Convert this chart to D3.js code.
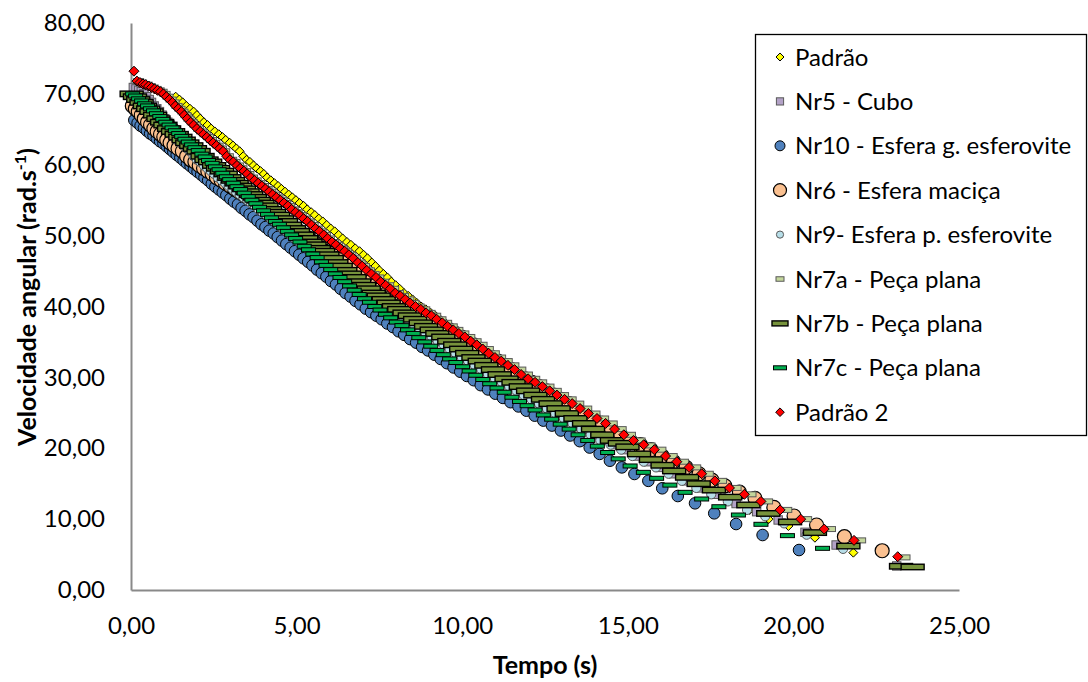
<!DOCTYPE html>
<html>
<head>
<meta charset="utf-8">
<script src="https://cdn.jsdelivr.net/npm/d3@7"></script>
<style>
  body { margin: 0; background: #fff; }
  svg { display: block; }
  text { font-family: Lato, "Open Sans", sans-serif; }
</style>
</head>
<body>
<svg id="chart" width="1088" height="682"></svg>
<script>
// Tick values
const xTicks = [0, 5, 10, 15, 20, 25];
const yTicks = [0, 10, 20, 30, 40, 50, 60, 70, 80];

// Series names, in legend / drawing order
const seriesNames = [
  "Padrão", "Nr5 - Cubo", "Nr10 - Esfera g. esferovite", "Nr6 - Esfera maciça",
  "Nr9- Esfera p. esferovite", "Nr7a - Peça plana", "Nr7b - Peça plana",
  "Nr7c - Peça plana", "Padrão 2"
];

// Measurements: [tempo (s), velocidade angular (rad/s)]
const padrao = [[1.35,69.6],[1.46,69.2],[1.56,68.8],[1.67,68.3],[1.78,67.9],[1.89,67.5],[1.99,67.0],[2.09,66.5],[2.20,66.0],[2.31,65.6],[2.42,65.1],[2.53,64.7],[2.65,64.3],[2.76,63.9],[2.86,63.5],[2.98,63.1],[3.08,62.7],[3.18,62.3],[3.28,61.9],[3.39,61.2],[3.49,60.7],[3.59,60.4],[3.70,59.9],[3.80,59.5],[3.91,59.1],[4.01,58.7],[4.11,58.2],[4.22,57.8],[4.33,57.4],[4.44,57.0],[4.54,56.6],[4.65,56.2],[4.76,55.8],[4.87,55.4],[4.98,55.0],[5.09,54.6],[5.21,54.2],[5.32,53.7],[5.44,53.3],[5.55,52.9],[5.67,52.4],[5.79,52.0],[5.91,51.5],[6.03,51.0],[6.15,50.6],[6.27,50.1],[6.39,49.6],[6.52,49.1],[6.64,48.7],[6.77,48.2],[6.90,47.8],[7.02,47.3],[7.14,46.8],[7.27,46.2],[7.38,45.7],[7.50,45.1],[7.62,44.6],[7.74,44.1],[7.86,43.5],[7.99,43.0],[8.11,42.5],[8.24,41.9],[8.37,41.5],[8.50,41.0],[8.63,40.5],[8.76,40.0],[8.90,39.6],[9.05,39.1],[9.19,38.7],[9.33,38.2],[9.48,37.7],[9.62,37.2],[9.76,36.7],[9.91,36.2],[10.08,35.7],[10.25,35.1],[10.42,34.6],[10.59,34.0],[10.76,33.4],[10.94,32.8],[11.12,32.3],[11.31,31.7],[11.50,31.1],[11.69,30.4],[11.89,29.8],[12.09,29.3],[12.29,28.7],[12.49,28.1],[12.69,27.5],[12.90,26.9],[13.11,26.3],[13.33,25.6],[13.55,24.9],[13.79,24.2],[14.03,23.5],[14.26,22.7],[14.50,21.9],[14.76,21.1],[15.03,20.5],[15.31,19.8],[15.60,18.9],[15.90,18.1],[16.22,17.3],[16.55,16.4],[16.90,15.4],[17.29,14.4],[17.70,13.5],[18.16,12.5],[18.68,11.3],[19.25,10.0],[19.85,9.03],[20.65,7.38],[21.81,5.27]];

const nr5 = [[0.07,70.9],[0.15,70.7],[0.23,70.5],[0.31,70.3],[0.39,70.0],[0.47,69.6],[0.55,69.2],[0.62,68.8],[0.70,68.3],[0.78,67.9],[0.86,67.5],[0.94,67.0],[1.02,66.5],[1.11,66.0],[1.19,65.6],[1.28,65.1],[1.36,64.7],[1.45,64.3],[1.54,63.9],[1.62,63.5],[1.71,63.1],[1.79,62.7],[1.88,62.3],[1.97,61.9],[2.07,61.2],[2.16,60.7],[2.24,60.4],[2.35,59.9],[2.45,59.5],[2.56,59.1],[2.66,58.7],[2.77,58.2],[2.88,57.8],[2.99,57.4],[3.10,57.0],[3.21,56.6],[3.32,56.2],[3.43,55.8],[3.54,55.4],[3.66,55.0],[3.77,54.6],[3.89,54.2],[4.00,53.7],[4.12,53.3],[4.24,52.9],[4.36,52.4],[4.48,52.0],[4.60,51.5],[4.72,51.0],[4.84,50.6],[4.97,50.1],[5.09,49.6],[5.22,49.1],[5.34,48.7],[5.47,48.2],[5.60,47.8],[5.73,47.3],[5.86,46.8],[6.00,46.2],[6.13,45.7],[6.27,45.1],[6.41,44.6],[6.55,44.1],[6.69,43.5],[6.84,43.0],[6.98,42.5],[7.13,41.9],[7.28,41.5],[7.43,41.0],[7.58,40.5],[7.74,40.0],[7.90,39.6],[8.06,39.1],[8.22,38.7],[8.38,38.2],[8.55,37.7],[8.71,37.2],[8.88,36.7],[9.05,36.2],[9.23,35.7],[9.41,35.1],[9.59,34.6],[9.77,34.0],[9.95,33.4],[10.14,32.8],[10.33,32.3],[10.53,31.7],[10.73,31.1],[10.93,30.4],[11.14,29.8],[11.35,29.3],[11.57,28.7],[11.79,28.1],[12.01,27.5],[12.24,26.9],[12.47,26.3],[12.71,25.6],[12.96,24.9],[13.22,24.2],[13.48,23.5],[13.75,22.7],[14.03,21.9],[14.32,21.1],[14.63,20.5],[14.95,19.8],[15.29,18.9],[15.63,18.1],[16.00,17.3],[16.38,16.4],[16.78,15.4],[17.22,14.4],[17.67,13.5],[18.27,12.2],[18.89,11.05],[19.54,9.88],[20.35,8.14],[21.29,6.35],[23.12,3.39]];

const nr10 = [[0.10,66.3],[0.20,65.9],[0.29,65.5],[0.39,65.2],[0.48,64.8],[0.58,64.4],[0.68,64.1],[0.78,63.7],[0.88,63.3],[0.98,63.0],[1.08,62.6],[1.18,62.2],[1.28,61.8],[1.38,61.4],[1.49,61.0],[1.59,60.6],[1.69,60.2],[1.80,59.8],[1.90,59.4],[2.01,59.0],[2.12,58.6],[2.22,58.2],[2.33,57.8],[2.44,57.3],[2.55,56.9],[2.66,56.5],[2.77,56.1],[2.88,55.7],[3.00,55.2],[3.11,54.8],[3.23,54.4],[3.34,53.9],[3.46,53.5],[3.58,53.0],[3.70,52.6],[3.82,52.1],[3.94,51.6],[4.06,51.2],[4.18,50.7],[4.31,50.3],[4.43,49.8],[4.56,49.3],[4.69,48.8],[4.82,48.3],[4.95,47.8],[5.08,47.3],[5.21,46.8],[5.35,46.3],[5.48,45.8],[5.62,45.2],[5.76,44.7],[5.90,44.2],[6.04,43.6],[6.19,43.1],[6.33,42.5],[6.48,41.9],[6.63,41.4],[6.78,40.8],[6.93,40.3],[7.09,39.7],[7.25,39.2],[7.41,38.7],[7.57,38.2],[7.74,37.6],[7.91,37.1],[8.08,36.5],[8.25,36.0],[8.43,35.4],[8.61,34.9],[8.79,34.3],[8.97,33.8],[9.16,33.2],[9.35,32.6],[9.54,32.0],[9.74,31.4],[9.94,30.8],[10.14,30.2],[10.35,29.6],[10.56,28.9],[10.78,28.3],[11.00,27.7],[11.23,27.1],[11.46,26.5],[11.70,25.9],[11.94,25.3],[12.19,24.6],[12.45,23.9],[12.71,23.2],[12.98,22.5],[13.26,21.8],[13.55,21.0],[13.85,20.1],[14.15,19.2],[14.46,18.24],[14.82,17.3],[15.20,16.37],[15.62,15.4],[16.04,14.35],[16.51,13.26],[17.03,12.23],[17.61,10.82],[18.27,9.31],[19.07,7.76],[20.17,5.64]];

const nr6 = [[0.04,68.3],[0.13,67.9],[0.22,67.5],[0.31,67.0],[0.40,66.5],[0.50,66.0],[0.59,65.6],[0.69,65.1],[0.79,64.7],[0.89,64.3],[0.99,63.9],[1.08,63.5],[1.18,63.1],[1.30,62.7],[1.42,62.3],[1.55,61.9],[1.68,61.2],[1.80,60.7],[1.93,60.4],[2.06,59.9],[2.19,59.5],[2.32,59.1],[2.45,58.7],[2.58,58.2],[2.72,57.8],[2.85,57.4],[2.99,57.0],[3.12,56.6],[3.25,56.2],[3.39,55.8],[3.52,55.4],[3.66,55.0],[3.79,54.6],[3.94,54.2],[4.07,53.7],[4.21,53.3],[4.36,52.9],[4.50,52.4],[4.65,52.0],[4.79,51.5],[4.93,51.0],[5.08,50.6],[5.23,50.1],[5.38,49.6],[5.53,49.1],[5.67,48.7],[5.82,48.2],[5.97,47.8],[6.12,47.3],[6.27,46.8],[6.43,46.2],[6.58,45.7],[6.74,45.1],[6.90,44.6],[7.06,44.1],[7.22,43.5],[7.39,43.0],[7.55,42.5],[7.73,41.9],[7.89,41.5],[8.05,41.0],[8.21,40.5],[8.38,40.0],[8.56,39.6],[8.73,39.1],[8.90,38.7],[9.07,38.2],[9.25,37.7],[9.43,37.2],[9.61,36.7],[9.79,36.2],[9.98,35.7],[10.16,35.1],[10.34,34.6],[10.52,34.0],[10.70,33.4],[10.89,32.8],[11.08,32.3],[11.28,31.7],[11.48,31.1],[11.68,30.4],[11.89,29.8],[12.10,29.3],[12.32,28.7],[12.54,28.1],[12.76,27.5],[12.99,26.9],[13.22,26.3],[13.46,25.6],[13.71,24.9],[13.97,24.2],[14.23,23.5],[14.50,22.7],[14.78,21.9],[15.07,21.1],[15.38,20.5],[15.70,19.8],[16.04,18.9],[16.38,18.1],[16.76,17.3],[17.15,16.4],[17.54,15.5],[17.93,14.7],[18.37,13.8],[18.84,12.94],[19.41,11.67],[20.02,10.44],[20.70,9.17],[21.54,7.52],[22.68,5.54]];

const nr9 = [[0.07,69.6],[0.16,69.2],[0.25,68.8],[0.34,68.3],[0.43,67.9],[0.52,67.5],[0.61,67.0],[0.70,66.5],[0.80,66.0],[0.89,65.6],[0.99,65.1],[1.09,64.7],[1.19,64.3],[1.29,63.9],[1.38,63.5],[1.48,63.1],[1.58,62.7],[1.68,62.3],[1.78,61.9],[1.89,61.2],[1.99,60.7],[2.09,60.4],[2.20,59.9],[2.30,59.5],[2.41,59.1],[2.51,58.7],[2.62,58.2],[2.73,57.8],[2.84,57.4],[2.95,57.0],[3.06,56.6],[3.17,56.2],[3.28,55.8],[3.39,55.4],[3.51,55.0],[3.62,54.6],[3.74,54.2],[3.85,53.7],[3.97,53.3],[4.09,52.9],[4.21,52.4],[4.33,52.0],[4.45,51.5],[4.57,51.0],[4.69,50.6],[4.82,50.1],[4.94,49.6],[5.07,49.1],[5.19,48.7],[5.32,48.2],[5.45,47.8],[5.58,47.3],[5.71,46.8],[5.85,46.2],[5.98,45.7],[6.12,45.1],[6.26,44.6],[6.40,44.1],[6.54,43.5],[6.69,43.0],[6.83,42.5],[6.98,41.9],[7.13,41.5],[7.28,41.0],[7.43,40.5],[7.59,40.0],[7.75,39.6],[7.91,39.1],[8.07,38.7],[8.23,38.2],[8.40,37.7],[8.56,37.2],[8.73,36.7],[8.90,36.2],[9.08,35.7],[9.26,35.1],[9.44,34.6],[9.62,34.0],[9.80,33.4],[9.99,32.8],[10.18,32.3],[10.38,31.7],[10.58,31.1],[10.78,30.4],[10.99,29.8],[11.20,29.3],[11.42,28.7],[11.64,28.1],[11.86,27.5],[12.09,26.9],[12.32,26.3],[12.56,25.6],[12.81,24.9],[13.07,24.2],[13.33,23.5],[13.60,22.7],[13.88,21.9],[14.17,21.1],[14.48,20.5],[14.80,19.8],[15.14,18.9],[15.48,18.1],[15.85,17.3],[16.23,16.4],[16.63,15.4],[17.07,14.4],[17.52,13.5],[18.02,12.5],[18.60,11.3],[19.15,10.4],[19.72,9.4],[20.40,7.8],[21.50,5.8]];

const nr7a = [[0.23,71.8],[0.32,71.6],[0.41,71.4],[0.49,71.3],[0.58,71.1],[0.67,70.9],[0.76,70.7],[0.85,70.5],[0.94,70.3],[1.03,70.0],[1.12,69.6],[1.21,69.2],[1.30,68.8],[1.39,68.3],[1.48,67.9],[1.57,67.5],[1.66,67.0],[1.75,66.5],[1.85,66.0],[1.94,65.6],[2.04,65.1],[2.14,64.7],[2.24,64.3],[2.34,63.9],[2.43,63.5],[2.53,63.1],[2.63,62.7],[2.73,62.3],[2.83,61.9],[2.94,61.2],[3.04,60.7],[3.14,60.4],[3.25,59.9],[3.35,59.5],[3.46,59.1],[3.56,58.7],[3.67,58.2],[3.78,57.8],[3.89,57.4],[4.00,57.0],[4.11,56.6],[4.22,56.2],[4.33,55.8],[4.44,55.4],[4.56,55.0],[4.67,54.6],[4.79,54.2],[4.90,53.7],[5.02,53.3],[5.14,52.9],[5.26,52.4],[5.38,52.0],[5.50,51.5],[5.62,51.0],[5.74,50.6],[5.87,50.1],[5.99,49.6],[6.12,49.1],[6.24,48.7],[6.38,48.2],[6.51,47.8],[6.64,47.3],[6.78,46.8],[6.92,46.2],[7.05,45.7],[7.20,45.1],[7.34,44.6],[7.48,44.1],[7.63,43.5],[7.78,43.0],[7.93,42.5],[8.08,41.9],[8.23,41.5],[8.39,41.0],[8.54,40.5],[8.70,40.0],[8.87,39.6],[9.03,39.1],[9.20,38.7],[9.36,38.2],[9.53,37.7],[9.70,37.2],[9.87,36.7],[10.05,36.2],[10.23,35.7],[10.42,35.1],[10.60,34.6],[10.79,34.0],[10.97,33.4],[11.16,32.8],[11.36,32.3],[11.56,31.7],[11.77,31.1],[11.97,30.4],[12.19,29.8],[12.40,29.3],[12.62,28.7],[12.84,28.1],[13.06,27.5],[13.29,26.9],[13.52,26.3],[13.76,25.6],[14.01,24.9],[14.27,24.2],[14.53,23.5],[14.80,22.7],[15.08,21.9],[15.37,21.1],[15.67,20.4],[16.00,19.8],[16.34,18.9],[16.68,18.1],[17.05,17.3],[17.43,16.4],[17.83,15.4],[18.27,14.4],[18.72,13.5],[19.22,12.5],[19.80,11.3],[20.40,10.0],[21.12,8.6],[22.03,7.0],[23.37,4.6]];

const nr7b = [[0.02,70.0],[0.12,69.6],[0.22,69.2],[0.32,68.8],[0.42,68.3],[0.52,67.9],[0.62,67.5],[0.73,67.0],[0.83,66.5],[0.94,66.0],[1.04,65.6],[1.15,65.1],[1.27,64.7],[1.38,64.3],[1.49,63.9],[1.59,63.5],[1.70,63.1],[1.82,62.7],[1.93,62.3],[2.04,61.9],[2.16,61.2],[2.28,60.7],[2.39,60.4],[2.51,59.9],[2.63,59.5],[2.75,59.1],[2.86,58.7],[2.97,58.2],[3.08,57.8],[3.19,57.4],[3.30,57.0],[3.41,56.6],[3.52,56.2],[3.63,55.8],[3.74,55.4],[3.86,55.0],[3.97,54.6],[4.09,54.2],[4.20,53.7],[4.32,53.3],[4.44,52.9],[4.56,52.4],[4.68,52.0],[4.80,51.5],[4.92,51.0],[5.04,50.6],[5.17,50.1],[5.29,49.6],[5.42,49.1],[5.54,48.7],[5.67,48.2],[5.80,47.8],[5.93,47.3],[6.06,46.8],[6.20,46.2],[6.33,45.7],[6.47,45.1],[6.61,44.6],[6.75,44.1],[6.89,43.5],[7.04,43.0],[7.18,42.5],[7.33,41.9],[7.48,41.5],[7.63,41.0],[7.78,40.5],[7.94,40.0],[8.10,39.6],[8.26,39.1],[8.42,38.7],[8.58,38.2],[8.75,37.7],[8.91,37.2],[9.08,36.7],[9.25,36.2],[9.43,35.7],[9.61,35.1],[9.79,34.6],[9.97,34.0],[10.15,33.4],[10.34,32.8],[10.53,32.3],[10.73,31.7],[10.93,31.1],[11.13,30.4],[11.34,29.8],[11.55,29.3],[11.77,28.7],[11.99,28.1],[12.21,27.5],[12.44,26.9],[12.67,26.3],[12.91,25.6],[13.16,24.9],[13.42,24.2],[13.68,23.5],[13.95,22.7],[14.23,21.9],[14.52,21.1],[14.76,20.7],[14.99,20.2],[15.34,19.2],[15.70,18.4],[16.05,17.6],[16.40,16.8],[16.79,15.9],[17.14,15.0],[17.60,14.1],[18.09,13.1],[18.64,12.0],[19.24,10.8],[19.90,9.6],[20.65,8.1],[21.66,6.2],[23.25,3.35],[23.60,3.25]];

const nr7c = [[0.05,70.0],[0.14,69.7],[0.23,69.3],[0.32,69.0],[0.41,68.6],[0.50,68.3],[0.59,67.9],[0.68,67.6],[0.77,67.2],[0.87,66.8],[0.96,66.4],[1.05,66.0],[1.15,65.6],[1.24,65.2],[1.34,64.8],[1.44,64.4],[1.53,64.0],[1.63,63.6],[1.73,63.2],[1.83,62.8],[1.93,62.4],[2.03,62.0],[2.14,61.5],[2.24,61.1],[2.34,60.6],[2.45,60.2],[2.55,59.7],[2.66,59.3],[2.77,58.8],[2.88,58.3],[2.98,57.9],[3.09,57.4],[3.20,56.9],[3.31,56.5],[3.42,56.0],[3.54,55.5],[3.65,55.0],[3.77,54.5],[3.88,54.0],[4.00,53.5],[4.12,53.0],[4.24,52.5],[4.36,52.0],[4.48,51.6],[4.60,51.1],[4.72,50.6],[4.85,50.1],[4.97,49.6],[5.10,49.1],[5.23,48.5],[5.36,48.0],[5.49,47.4],[5.62,46.9],[5.75,46.3],[5.89,45.8],[6.03,45.2],[6.17,44.6],[6.31,44.1],[6.45,43.5],[6.60,42.9],[6.74,42.3],[6.89,41.7],[7.05,41.1],[7.20,40.6],[7.36,40.0],[7.52,39.5],[7.68,38.9],[7.84,38.4],[8.01,37.8],[8.18,37.3],[8.35,36.7],[8.52,36.2],[8.69,35.6],[8.87,35.0],[9.05,34.4],[9.24,33.8],[9.43,33.2],[9.62,32.6],[9.81,32.1],[10.01,31.5],[10.21,30.9],[10.41,30.3],[10.62,29.7],[10.83,29.1],[11.05,28.5],[11.27,27.9],[11.50,27.2],[11.73,26.6],[11.96,26.0],[12.20,25.4],[12.45,24.7],[12.70,24.1],[12.96,23.4],[13.23,22.7],[13.50,21.9],[13.79,21.1],[14.08,20.3],[14.39,19.4],[14.71,18.5],[15.07,17.5],[15.47,16.6],[15.87,15.76],[16.27,14.8],[16.73,13.78],[17.23,12.84],[17.75,11.75],[18.34,10.58],[19.02,9.27],[19.82,7.67],[20.88,5.88]];

const padrao2 = [[0.09,73.2],[0.18,71.8],[0.27,71.6],[0.36,71.4],[0.44,71.3],[0.53,71.1],[0.62,70.9],[0.71,70.7],[0.80,70.5],[0.89,70.3],[0.98,70.0],[1.07,69.6],[1.16,69.2],[1.25,68.8],[1.34,68.3],[1.43,67.9],[1.52,67.5],[1.61,67.0],[1.70,66.5],[1.80,66.0],[1.89,65.6],[1.99,65.1],[2.09,64.7],[2.19,64.3],[2.29,63.9],[2.38,63.5],[2.48,63.1],[2.58,62.7],[2.68,62.3],[2.78,61.9],[2.89,61.2],[2.99,60.7],[3.09,60.4],[3.20,59.9],[3.30,59.5],[3.41,59.1],[3.51,58.7],[3.62,58.2],[3.73,57.8],[3.84,57.4],[3.95,57.0],[4.06,56.6],[4.17,56.2],[4.28,55.8],[4.39,55.4],[4.51,55.0],[4.62,54.6],[4.74,54.2],[4.85,53.7],[4.97,53.3],[5.09,52.9],[5.21,52.4],[5.33,52.0],[5.45,51.5],[5.57,51.0],[5.69,50.6],[5.82,50.1],[5.94,49.6],[6.07,49.1],[6.19,48.7],[6.32,48.2],[6.45,47.8],[6.58,47.3],[6.71,46.8],[6.85,46.2],[6.98,45.7],[7.12,45.1],[7.26,44.6],[7.40,44.1],[7.54,43.5],[7.69,43.0],[7.83,42.5],[7.98,41.9],[8.13,41.5],[8.28,41.0],[8.43,40.5],[8.59,40.0],[8.75,39.6],[8.91,39.1],[9.07,38.7],[9.23,38.2],[9.40,37.7],[9.56,37.2],[9.73,36.7],[9.90,36.2],[10.08,35.7],[10.26,35.1],[10.44,34.6],[10.62,34.0],[10.80,33.4],[10.99,32.8],[11.18,32.3],[11.38,31.7],[11.58,31.1],[11.78,30.4],[11.99,29.8],[12.20,29.3],[12.42,28.7],[12.64,28.1],[12.86,27.5],[13.09,26.9],[13.32,26.3],[13.56,25.6],[13.81,24.9],[14.07,24.2],[14.33,23.5],[14.60,22.7],[14.88,21.9],[15.17,21.1],[15.48,20.5],[15.80,19.8],[16.14,18.9],[16.48,18.1],[16.85,17.3],[17.23,16.4],[17.63,15.4],[18.07,14.4],[18.52,13.5],[19.02,12.5],[19.60,11.3],[20.22,10.0],[20.93,8.6],[21.83,7.0],[23.15,4.7]];

const seriesData = [padrao, nr5, nr10, nr6, nr9, nr7a, nr7b, nr7c, padrao2];

// Marker styles (plot size, legend size)
const markerStyles = [
  { shape: "diamond", fill: "#FFFF00", stroke: "#000", sw: 1,   r: 4.5, lr: 4 },
  { shape: "square",  fill: "#B3A2C7", stroke: "#595959", sw: 1, r: 4.2, lr: 3.6 },
  { shape: "circle",  fill: "#4F81BD", stroke: "#000", sw: 1,   r: 5.8, lr: 5 },
  { shape: "circle",  fill: "#FAC090", stroke: "#000", sw: 1.2, r: 7,   lr: 6.5 },
  { shape: "circle",  fill: "#B7DEE8", stroke: "#595959", sw: 1, r: 4.6, lr: 3.6 },
  { shape: "dash",    fill: "#C3D69B", stroke: "#595959", sw: 1, w: 10, h: 5, lw: 8, lh: 4.5 },
  { shape: "dash",    fill: "#77933C", stroke: "#000", sw: 1.4, w: 23, h: 5.5, lw: 16, lh: 5 },
  { shape: "dash",    fill: "#00B050", stroke: "#000", sw: 1,   w: 14, h: 4, lw: 13, lh: 4 },
  { shape: "diamond", fill: "#FF0000", stroke: "#000", sw: 1,   r: 5,   lr: 4.3 }
];

const fmt = d => d.toFixed(2).replace(".", ",");
const svg = d3.select("#chart");

const x = d3.scaleLinear().domain([0, 25]).range([131, 959]);
const y = d3.scaleLinear().domain([0, 80]).range([590, 23]);

// Axes
const gx = svg.append("g")
  .attr("transform", "translate(0,590)")
  .call(d3.axisBottom(x).tickValues(xTicks).tickSize(0).tickSizeOuter(0).tickPadding(27).tickFormat(fmt));
const gy = svg.append("g")
  .attr("transform", "translate(131,0)")
  .call(d3.axisLeft(y).tickValues(yTicks).tickSize(0).tickSizeOuter(0).tickPadding(26).tickFormat(fmt));
[gx, gy].forEach(g => {
  g.attr("font-family", "Lato, 'Open Sans', sans-serif").attr("font-size", 24);
  g.select(".domain").attr("stroke", "#898989").attr("stroke-width", 2);
  g.selectAll("text").attr("fill", "#000");
});

// Axis titles
svg.append("text")
  .attr("x", 545).attr("y", 674)
  .attr("text-anchor", "middle")
  .attr("font-weight", 700).attr("font-size", 25)
  .text("Tempo (s)");

const yTitle = svg.append("text")
  .attr("transform", "translate(36,297) rotate(-90)")
  .attr("text-anchor", "middle")
  .attr("font-weight", 700).attr("font-size", 25);
yTitle.append("tspan").text("Velocidade angular (rad.s");
yTitle.append("tspan").attr("font-size", 16).attr("dy", -10).text("-1");
yTitle.append("tspan").attr("dy", 10).text(")");

// Marker drawing
function drawMarker(sel, st, legend) {
  if (st.shape === "diamond") {
    const r = legend ? st.lr : st.r;
    sel.append("path").attr("d", `M0,${-r}L${r},0L0,${r}L${-r},0Z`);
  } else if (st.shape === "square") {
    const r = legend ? st.lr : st.r;
    sel.append("rect").attr("x", -r).attr("y", -r).attr("width", 2 * r).attr("height", 2 * r);
  } else if (st.shape === "circle") {
    sel.append("circle").attr("r", legend ? st.lr : st.r);
  } else {
    const w = legend ? st.lw : st.w, h = legend ? st.lh : st.h;
    sel.append("rect").attr("x", -w / 2).attr("y", -h / 2).attr("width", w).attr("height", h);
  }
  sel.attr("fill", st.fill).attr("stroke", st.stroke).attr("stroke-width", st.sw);
}

const plot = svg.append("g");
seriesData.forEach((data, i) => {
  const st = markerStyles[i];
  plot.append("g")
    .selectAll("g")
    .data(data)
    .join("g")
    .attr("transform", d => `translate(${x(d[0])},${y(d[1])})`)
    .each(function () { drawMarker(d3.select(this), st, false); });
});

// Legend
const legend = svg.append("g");
legend.append("rect")
  .attr("x", 755.5).attr("y", 34.5).attr("width", 331).attr("height", 401)
  .attr("fill", "#fff").attr("stroke", "#000").attr("stroke-width", 1.3);
seriesNames.forEach((name, i) => {
  const cy = 57 + i * 44.4;
  const m = legend.append("g").attr("transform", `translate(780,${cy})`);
  drawMarker(m, markerStyles[i], true);
  legend.append("text")
    .attr("x", 795).attr("y", cy + 8.5)
    .attr("font-size", 24)
    .text(name);
});
</script>
</body>
</html>
